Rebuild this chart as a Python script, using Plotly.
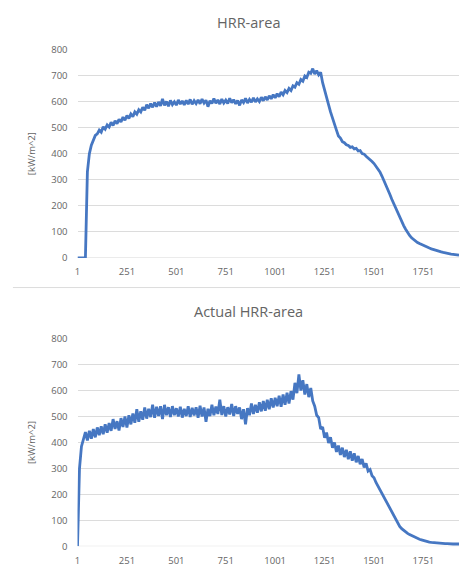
import plotly.graph_objects as go

# Sample index (every 10th record of the test log)
sample = list(range(1, 1932, 10))

hrr_area = [
    0, 0, 0, 0, 0, 330, 400, 432, 452, 470,
    476, 490, 482, 503, 494, 510, 502, 520, 508, 526,
    515, 532, 521, 540, 528, 546, 535, 552, 542, 560,
    551, 568, 560, 578, 566, 588, 574, 592, 578, 596,
    580, 598, 583, 610, 585, 600, 582, 604, 588, 599,
    586, 606, 590, 602, 587, 604, 590, 608, 589, 603,
    592, 606, 591, 609, 594, 605, 580, 603, 592, 611,
    593, 606, 590, 609, 594, 605, 592, 612, 595, 607,
    591, 604, 585, 606, 596, 612, 594, 608, 597, 614,
    598, 610, 600, 616, 603, 618, 606, 622, 610, 626,
    614, 630, 618, 636, 626, 642, 634, 650, 642, 660,
    655, 672, 666, 684, 678, 698, 692, 712, 708, 726,
    705, 718, 702, 712, 672, 640, 612, 588, 560, 536,
    505, 490, 468, 460, 446, 442, 434, 431, 424, 426,
    418, 420, 410, 412, 400, 398, 390, 384, 378, 370,
    362, 352, 342, 330, 314, 298, 282, 263, 244, 225,
    207, 190, 172, 156, 140, 124, 110, 97, 86, 77,
    70, 64, 59, 55, 51, 47, 44, 41, 38, 35,
    32, 29, 27, 25, 23, 21, 19, 17, 16, 15,
    14, 13, 12, 11,
]

actual_hrr_area = [
    0, 300, 385, 418, 440, 408, 445, 415, 452, 420,
    458, 428, 462, 432, 470, 438, 475, 445, 490, 452,
    482, 446, 494, 460, 500, 458, 505, 470, 512, 476,
    528, 480, 520, 488, 535, 492, 530, 498, 546, 495,
    538, 502, 540, 490, 545, 505, 536, 498, 540, 505,
    532, 500, 538, 496, 530, 502, 540, 498, 534, 504,
    536, 495, 542, 500, 535, 480, 530, 502, 545, 505,
    538, 510, 565, 506, 540, 500, 536, 508, 548, 502,
    540, 510, 535, 490, 528, 470, 532, 505, 550, 510,
    545, 515, 555, 520, 560, 522, 565, 528, 570, 535,
    572, 540, 580, 538, 585, 545, 592, 550, 598, 565,
    630, 590, 662, 600, 640, 585, 625, 575, 610, 560,
    540, 505, 496, 452, 460, 418, 438, 398, 420, 380,
    400, 364, 388, 352, 380, 344, 372, 336, 366, 330,
    358, 324, 348, 316, 336, 304, 320, 290, 296, 272,
    264, 246, 232, 216, 202, 188, 172, 158, 142, 128,
    114, 100, 88, 77, 68, 61, 55, 50, 45, 41,
    37, 33, 30, 27, 25, 22, 20, 18, 16, 15,
    14, 13, 12, 11, 11, 10, 10, 10, 9, 9,
    9, 9, 9, 9,
]

x_ticks = [1, 251, 501, 751, 1001, 1251, 1501, 1751]
y_ticks = [0, 100, 200, 300, 400, 500, 600, 700, 800]
titles = ["HRR-area", "Actual HRR-area"]
y_label = "[kW/m^2]"

W, H = 460, 579
LINE = "#4677c2"
GRID = "#dcdcdc"
TXT = "#646464"
FONT = "Open Sans"


def py(px):
    return 1 - px / H


fig = go.Figure()
fig.add_trace(go.Scatter(x=sample, y=hrr_area, mode="lines",
                         line=dict(color=LINE, width=2.8), xaxis="x", yaxis="y",
                         showlegend=False, hoverinfo="skip"))
fig.add_trace(go.Scatter(x=sample, y=actual_hrr_area, mode="lines",
                         line=dict(color=LINE, width=2.8), xaxis="x2", yaxis="y2",
                         showlegend=False, hoverinfo="skip"))

xdom = [75 / W, 459 / W]
ydoms = [[py(256.7), py(43.3)], [py(551.7), py(339.3)]]

common_x = dict(range=[1, 1931], tickvals=x_ticks, ticktext=[str(v) for v in x_ticks],
                showgrid=False, zeroline=False, showline=False, ticks="",
                tickfont=dict(family=FONT, size=9.5, color=TXT), ticklabelstandoff=7,
                domain=xdom)
common_y = dict(range=[0, 800], tickvals=y_ticks, showgrid=True, gridcolor=GRID,
                gridwidth=1, zeroline=False, showline=False, ticks="",
                tickfont=dict(family=FONT, size=9.5, color=TXT), ticklabelstandoff=9,
                title=dict(text=y_label, font=dict(family=FONT, size=9.5, color=TXT),
                           standoff=13))

fig.update_layout(
    width=W, height=H,
    margin=dict(l=0, r=0, t=0, b=0),
    paper_bgcolor="white", plot_bgcolor="white",
    xaxis=dict(common_x, anchor="y"),
    yaxis=dict(common_y, domain=ydoms[0], anchor="x"),
    xaxis2=dict(common_x, anchor="y2"),
    yaxis2=dict(common_y, domain=ydoms[1], anchor="x2"),
    font=dict(family=FONT, color=TXT),
)

# Chart titles
for t, yc in zip(titles, [16, 312]):
    fig.add_annotation(text=t, x=247 / W, y=py(yc), xref="paper", yref="paper",
                       showarrow=False, xanchor="center", yanchor="middle",
                       font=dict(family=FONT, size=14.5, color=TXT))

# Axis baselines (the 0 gridline)
for yref in ["y", "y2"]:
    fig.add_shape(type="line", xref="x" if yref == "y" else "x2", yref=yref,
                  x0=1, x1=1931, y0=0, y1=0, line=dict(color=GRID, width=1),
                  layer="below")

# Border between the two chart panels
fig.add_shape(type="line", xref="paper", yref="paper",
              x0=10 / W, x1=1, y0=py(287), y1=py(287),
              line=dict(color=GRID, width=1))

fig.write_html("out.html")
